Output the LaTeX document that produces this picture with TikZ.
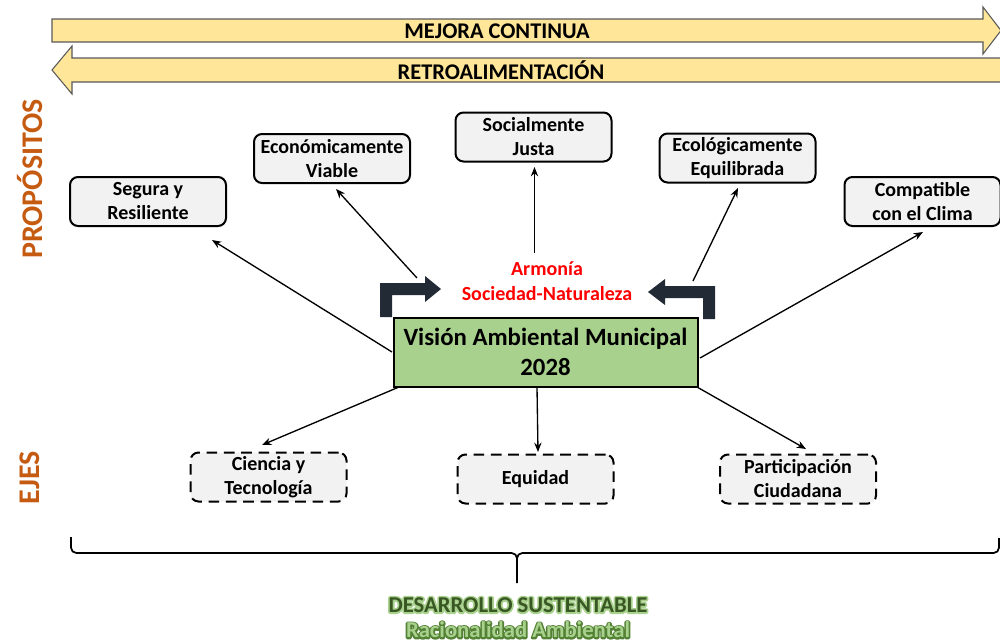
\documentclass[tikz,border=0pt]{standalone}
\usepackage{fontspec}
\setmainfont{Carlito}
\usetikzlibrary{arrows.meta}
\definecolor{ylw}{HTML}{FFE699}
\definecolor{ylwline}{HTML}{595959}
\definecolor{brn}{HTML}{C55A11}
\definecolor{boxgray}{HTML}{F2F2F2}
\definecolor{visgreen}{HTML}{A9D18E}
\definecolor{darkbent}{HTML}{222A35}
\definecolor{dkgreen}{HTML}{385723}
\definecolor{ltgreen}{HTML}{A9D18E}
\definecolor{midgreen}{HTML}{548235}
\newcommand{\strokedtext}[3]{\special{pdf:literal direct 1 Tr #2 w 1 j #1 RG}#3\special{pdf:literal direct 0 Tr}}
\begin{document}
\begin{tikzpicture}[x=0.75pt,y=-0.75pt,
  bigarrow/.style={fill=ylw,draw=ylwline,line width=0.8pt},
  arrowtext/.style={font=\bfseries\fontsize{16.8}{18}\selectfont},
  sidelabel/.style={font=\bfseries\fontsize{22.5}{24}\selectfont,text=brn,rotate=90},
  purpose/.style={draw=black,line width=1.5pt,fill=boxgray,rounded corners=6pt,
    minimum width=117pt,minimum height=36.75pt,align=center,inner sep=1pt,
    font=\bfseries\fontsize{15}{18}\selectfont},
  axis/.style={purpose,dashed,dash pattern=on 8pt off 5pt},
  conn/.style={line width=1pt,-{Stealth[length=7pt,width=5.5pt]}},
  bent/.style={fill=darkbent,draw=none},
  bottomtext/.style={font=\bfseries\fontsize{17}{19}\selectfont}]
\useasboundingbox (0,0) rectangle (1000,643);
% big arrows
\path[bigarrow] (52,19) -- (983,19) -- (983,7) -- (1001,30.5) -- (983,54) -- (983,42) -- (52,42) -- cycle;
\node[arrowtext] (mejora) at (497,31) {MEJORA CONTINUA};
\path[bigarrow] (1002,58) -- (72,58) -- (72,46) -- (52,70) -- (72,94) -- (72,82) -- (1002,82) -- cycle;
\node[arrowtext] (retro) at (501,70) {RETROALIMENTACIÓN};
% side labels
\node[sidelabel] (prop) at (30,179) {PROPÓSITOS};
\node[sidelabel] (ejes) at (30,478) {EJES};
% purpose boxes
\node[purpose] (seg) at (148,201.5) {Segura y\\Resiliente};
\node[purpose] (eco) at (332,158.5) {Económicamente\\Viable};
\node[purpose] (soc) at (533.5,137) {Socialmente\\Justa};
\node[purpose] (ecol) at (737.5,158) {Ecológicamente\\Equilibrada};
\node[purpose] (clim) at (922.5,201.5) {Compatible\\con el Clima};
% central
\node[draw=black,line width=1.5pt,fill=visgreen,minimum width=228pt,minimum height=51.75pt,
  align=center,inner sep=1pt,font=\bfseries\fontsize{18.6}{22.5}\selectfont] (vis) at (545.5,352)
  {Visión Ambiental Municipal\\2028};
\node[align=center,text=red,font=\bfseries\fontsize{15}{19}\selectfont] (arm) at (547,281)
  {Armonía\\Sociedad-Naturaleza};
% bent arrows
\path[bent] (380,317) -- (380,283) -- (425,283) -- (425,276) -- (441,289) -- (425,302) -- (425,295) -- (392,295) -- (392,317) -- cycle;
\path[bent] (715,319) -- (715,286) -- (665,286) -- (665,279) -- (648,292) -- (665,305) -- (665,298) -- (703,298) -- (703,319) -- cycle;
% axis boxes
\node[axis] (cie) at (268.5,477) {Ciencia y\\Tecnología};
\node[axis] (equ) at (535.5,479) {Equidad};
\node[axis] (par) at (798,479) {Participación\\Ciudadana};
% connector coordinates
\coordinate (sSeg) at (392,352);
\coordinate (aSeg) at (212,240);
\coordinate (sEco) at (417,278);
\coordinate (aEco) at (336,189);
\coordinate (sSoc) at (534.5,253);
\coordinate (aSoc) at (534.5,167);
\coordinate (sEcol) at (693,281);
\coordinate (aEcol) at (738,188);
\coordinate (sClim) at (700,358);
\coordinate (aClim) at (923,232);
\coordinate (sCie) at (399,387);
\coordinate (aCie) at (262,445);
\coordinate (sEqu) at (537,387);
\coordinate (aEqu) at (538,452);
\coordinate (sPar) at (697,387);
\coordinate (aPar) at (806,449);
\draw[conn] (sSeg) -- (aSeg);
\draw[conn] (sEco) -- (aEco);
\draw[conn] (sSoc) -- (aSoc);
\draw[conn] (sEcol) -- (aEcol);
\draw[conn] (sClim) -- (aClim);
\draw[conn] (sCie) -- (aCie);
\draw[conn] (sEqu) -- (aEqu);
\draw[conn] (sPar) -- (aPar);
% brace
\coordinate (bl) at (71,537);
\coordinate (br) at (999,538);
\coordinate (bm) at (517,583);
\draw[line width=1.3pt,rounded corners=4pt] (bl) |- (517,553) -- (bm);
\draw[line width=1.3pt,rounded corners=4pt] (517,560) |- (999,553) -- (br);
% bottom texts (outlined)
\node[bottomtext] (desglow) at (518,605) {\strokedtext{0.663 0.820 0.557}{2.6}{DESARROLLO SUSTENTABLE}};
\node[bottomtext,text=dkgreen] (des) at (518,605) {DESARROLLO SUSTENTABLE};
\node[bottomtext] (racglow) at (518,630) {\strokedtext{0.329 0.510 0.208}{2.4}{Racionalidad Ambiental}};
\node[bottomtext,text=ltgreen] (rac) at (518,630) {Racionalidad Ambiental};
\end{tikzpicture}
\end{document}
